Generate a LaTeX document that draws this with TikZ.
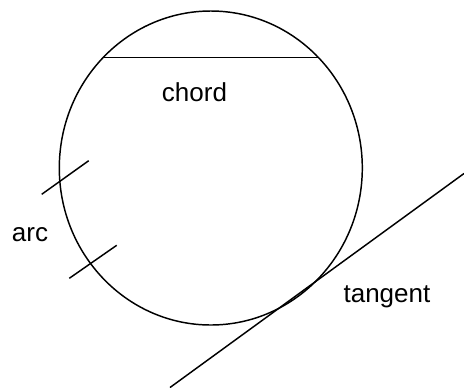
\documentclass[tikz,border=0pt]{standalone}
\usepackage{fontspec}
\setmainfont{Liberation Sans}
\begin{document}
\begin{tikzpicture}[x=0.75pt,y=-0.75pt,
  geo/.style={line width=1.1pt,black},
  lbl/.style={anchor=base west,inner sep=0pt,font=\fontsize{19.5pt}{22pt}\selectfont}]
\useasboundingbox (0,0) rectangle (464,387);
\coordinate (c) at (210.8,168);
\draw[geo] (c) ellipse [x radius=151.5, y radius=157];
% chord
\coordinate (ch1) at (103.6,57.3);
\coordinate (ch2) at (318.2,57.3);
\draw[geo] (ch1) -- (ch2);
% arc tick marks
\coordinate (t1a) at (41.7,194.3);
\coordinate (t1b) at (88.7,160.7);
\coordinate (t2a) at (69.3,278.3);
\coordinate (t2b) at (116.7,245.3);
\draw[geo] (t1a) -- (t1b);
\draw[geo] (t2a) -- (t2b);
% tangent
\coordinate (tg1) at (170,387.5);
\coordinate (tg2) at (464,173.5);
\draw[geo] (tg1) -- (tg2);
% labels
\node[lbl] (chord) at (161.7,101.7) {chord};
\node[lbl] (arc) at (11.7,241.3) {arc};
\node[lbl] (tangent) at (343.3,302.7) {tangent};
\end{tikzpicture}
\end{document}
